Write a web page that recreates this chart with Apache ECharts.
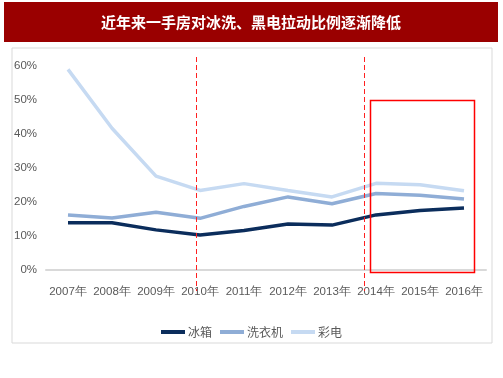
<!DOCTYPE html>
<html><head><meta charset="utf-8">
<script src="https://cdn.jsdelivr.net/npm/echarts@6/dist/echarts.min.js"></script>
<style>html,body{margin:0;padding:0;background:#fff}#c{width:503px;height:378px}</style>
</head><body><div id="c"></div>
<script>
const years = ['2007年','2008年','2009年','2010年','2011年','2012年','2013年','2014年','2015年','2016年'];
const fridge = [13.9,13.9,11.8,10.3,11.6,13.5,13.2,16.2,17.5,18.2];
const washer = [16.2,15.3,17.0,15.2,18.7,21.5,19.5,22.5,22.0,20.9];
const tv = [59.0,41.7,27.6,23.4,25.4,23.4,21.5,25.5,25.1,23.3];
const names = ['冰箱','洗衣机','彩电'];
const colors = ['#0b2d5c','#8fadd6','#c6daf2'];
const title = '近年来一手房对冰洗、黑电拉动比例逐渐降低';
// annotation positions in category-index units and percent
const dashedAt = [2.9, 6.73];
const boxX = [6.86, 9.23], boxY = [-0.5, 50];

const chart = echarts.init(document.getElementById('c'));
const font = '"Liberation Sans", Arial, sans-serif';
chart.setOption({
  animation:false,
  grid:{left:46,right:17,top:66,bottom:108},
  xAxis:{type:'category',data:years,boundaryGap:true,
    axisLine:{lineStyle:{color:'#d9d9d9',width:2}},axisTick:{show:false},
    axisLabel:{color:'#595959',fontSize:11.5,fontFamily:font,margin:16,interval:0}},
  yAxis:{type:'value',min:0,max:60,interval:10,
    axisLine:{show:false},axisTick:{show:false},splitLine:{show:false},
    axisLabel:{color:'#595959',fontSize:11.5,fontFamily:font,formatter:'{value}%',margin:9}},
  legend:{bottom:35,left:'center',itemWidth:24,itemHeight:4,itemGap:8,icon:'rect',
    textStyle:{color:'#595959',fontSize:12,fontFamily:'"Noto Sans CJK SC"',padding:[0,0,0,-2]},data:names},
  series:[fridge,washer,tv].map((d,i)=>({name:names[i],type:'line',data:d,showSymbol:false,
    lineStyle:{width:3.5,color:colors[i]},itemStyle:{color:colors[i]},z:3-i}))
});
const xp = v => {const a=chart.convertToPixel({xAxisIndex:0},0), b=chart.convertToPixel({xAxisIndex:0},1); return a+(b-a)*v;};
const yp = v => chart.convertToPixel({yAxisIndex:0},v);
const g = [
  {type:'rect',shape:{x:4,y:2,width:494,height:40},style:{fill:'#9a0000'},z:0},
  {type:'text',x:251,y:22,style:{text:title,fill:'#fff',fontSize:15,fontWeight:'bold',fontFamily:'"Noto Sans CJK SC"',align:'center',verticalAlign:'middle'}},
  {type:'rect',shape:{x:12,y:48,width:480,height:295},style:{fill:'none',stroke:'#d9d9d9',lineWidth:1},z:-1},
];
dashedAt.forEach(v=>{const x=Math.round(xp(v))+0.5;
  g.push({type:'line',shape:{x1:x,y1:57,x2:x,y2:291},style:{stroke:'#ff2020',lineWidth:1,lineDash:[5,3]},z:10});});
const x1=xp(boxX[0]), x2=xp(boxX[1]), y1=yp(boxY[1]), y2=yp(boxY[0]);
g.push({type:'rect',shape:{x:Math.round(x1)+0.5,y:Math.round(y1)+0.5,width:Math.round(x2-x1),height:Math.round(y2-y1)},style:{fill:'none',stroke:'#ff0000',lineWidth:1.5},z:10});
chart.setOption({graphic:g});
</script></body></html>
